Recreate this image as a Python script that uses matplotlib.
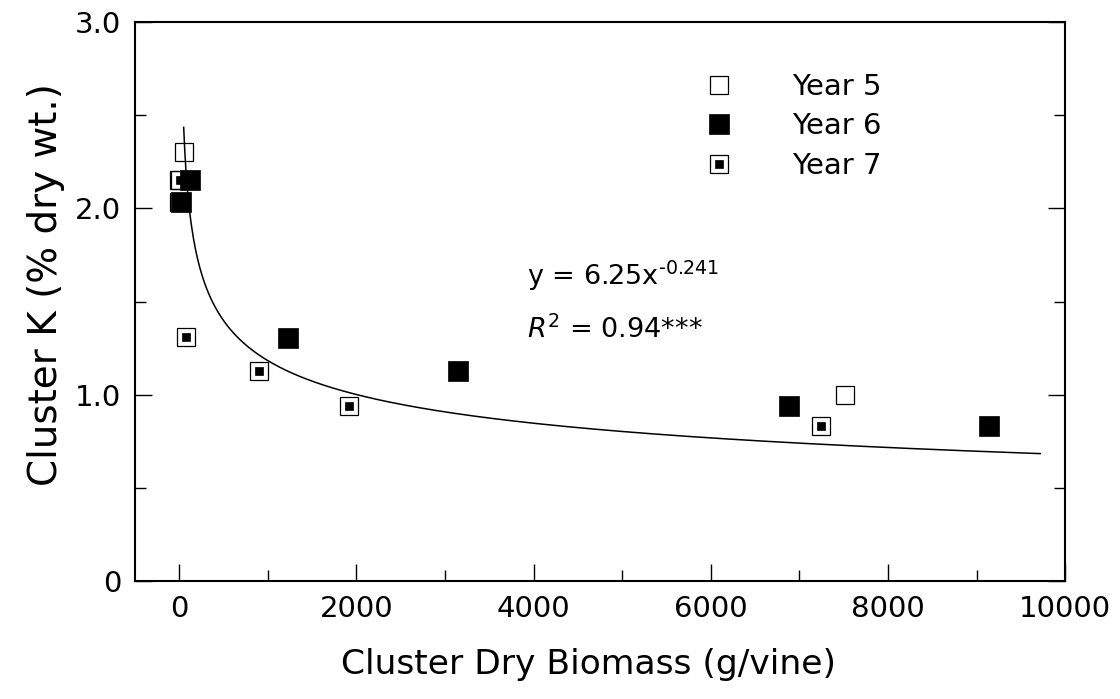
import numpy as np
import matplotlib
matplotlib.use("Agg")
import matplotlib.pyplot as plt
from matplotlib.ticker import MultipleLocator, FixedLocator

plt.rcParams['font.family'] = ['DejaVu Sans']

# Cluster dry biomass (g/vine) and cluster K (% dry wt.) by year
year5_x = [52, 0, 0, 7520]
year5_y = [2.30, 2.15, 2.035, 1.00]

year6_x = [124, 22, 1224, 3148, 6880, 9145]
year6_y = [2.15, 2.035, 1.306, 1.125, 0.94, 0.83]

year7_x = [3, 79, 905, 1919, 7240]
year7_y = [2.15, 1.31, 1.125, 0.937, 0.83]

# Power-law fit  y = a * x^b
fit_a = 6.25
fit_b = -0.241
fit_r2 = 0.94
fit_xmin, fit_xmax = 50, 9720

x_ticks = [0, 2000, 4000, 6000, 8000, 10000]
y_ticks = [0, 1.0, 2.0, 3.0]
y_ticklabels = ['0', '1.0', '2.0', '3.0']

fig = plt.figure(figsize=(11.2, 6.99), dpi=100)
ax = fig.add_axes([0.1205, 0.1688, 0.8305, 0.7997])

ax.set_xlim(-500, 10000)
ax.set_ylim(0, 3.0)

# fitted curve
xf = np.linspace(fit_xmin, fit_xmax, 800)
ax.plot(xf, fit_a * xf ** fit_b, color='black', lw=1.1, zorder=2)

ms = 14.0
h5, = ax.plot(year5_x, year5_y, ls='none', marker='s', ms=ms - 0.5,
              mfc='none', mec='black', mew=0.9, zorder=3)
h7o, = ax.plot(year7_x, year7_y, ls='none', marker='s', ms=ms - 1,
               mfc='none', mec='black', mew=0.9, zorder=4)
h7i, = ax.plot(year7_x, year7_y, ls='none', marker='s', ms=5.5,
               mfc='black', mec='black', mew=0.5, zorder=4)
h6, = ax.plot(year6_x, year6_y, ls='none', marker='s', ms=ms,
              mfc='black', mec='black', mew=0.5, zorder=5)

# axes styling
for side in ['left', 'right', 'top', 'bottom']:
    ax.spines[side].set_linewidth(1.5)

ax.xaxis.set_major_locator(FixedLocator(x_ticks))
ax.xaxis.set_minor_locator(MultipleLocator(1000))
ax.yaxis.set_major_locator(FixedLocator(y_ticks))
ax.yaxis.set_minor_locator(MultipleLocator(0.5))
ax.set_yticklabels(y_ticklabels)
ax.tick_params(axis='both', which='major', direction='in', length=12, width=1.0,
               labelsize=21, pad=10)
ax.tick_params(axis='both', which='minor', direction='in', length=8, width=1.0)
ax.tick_params(axis='y', which='both', right=True, labelright=False)
ax.tick_params(axis='x', which='both', top=False)

ax.set_xlabel('Cluster Dry Biomass (g/vine)', fontsize=24.8, labelpad=18)
ax.set_ylabel('Cluster K (% dry wt.)', fontsize=28, labelpad=7)
ax.xaxis.label.set_x(0.488)
ax.yaxis.label.set_y(0.53)

# legend
leg = ax.legend([h5, h6, (h7o, h7i)], ['Year 5', 'Year 6', 'Year 7'],
                loc='upper left', bbox_to_anchor=(0.6, 0.93), frameon=False,
                fontsize=21, handlelength=1.0, handletextpad=2.0,
                labelspacing=0.4, borderaxespad=0)

# fit equation
ax.text(3925, 1.586, 'y = 6.25x$^{\\mathregular{\u2010}0.241}$', fontsize=19.5,
        ha='left', va='baseline')
ax.text(3925, 1.306, r'$\mathit{R}^{\mathregular{2}}$ = 0.94***', fontsize=19.5,
        ha='left', va='baseline')

fig.savefig('out.png', dpi=100)
